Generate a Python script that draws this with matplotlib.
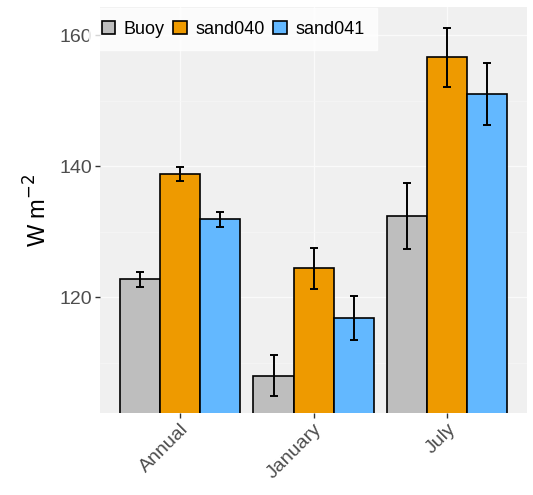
import numpy as np
import matplotlib.pyplot as plt

plt.rcParams['font.family'] = ['Liberation Sans', 'DejaVu Sans']

# 各时段的辐射通量均值与误差
periods = ['Annual', 'January', 'July']
sources = ['Buoy', 'sand040', 'sand041']
colors = ['#bebebe', '#ee9a00', '#63b8ff']

buoy = [122.7, 108.0, 132.4]
sand040 = [138.8, 124.4, 156.6]
sand041 = [131.9, 116.8, 151.0]
buoy_err = [1.1, 3.1, 5.0]
sand040_err = [1.1, 3.1, 4.5]
sand041_err = [1.15, 3.3, 4.7]

means = [buoy, sand040, sand041]
errs = [buoy_err, sand040_err, sand041_err]

fig = plt.figure(figsize=(5.33, 4.95), dpi=100)
ax = fig.add_axes([0.1876, 0.1657, 0.8014, 0.8203])
ax.set_facecolor('#f0f0f0')

x = np.arange(1, len(periods) + 1)
w = 0.3
for i, (m, e, c, s) in enumerate(zip(means, errs, colors, sources)):
    xs = x + (i - 1) * w
    ax.bar(xs, m, width=w, color=c, edgecolor='black', linewidth=1.2,
           label=s, zorder=2)
    ax.errorbar(xs, m, yerr=e, fmt='none', ecolor='black', elinewidth=1.4,
                capsize=2.8, capthick=1.4, zorder=3)

ax.set_xlim(0.4, 3.6)
ax.set_ylim(102.3, 164.3)
ax.set_yticks([120, 140, 160])
ax.set_yticks([110, 130, 150], minor=True)
ax.set_xticks(x)
ax.set_xticklabels(periods, rotation=45, ha='right', rotation_mode='anchor')

ax.grid(True, which='major', color='#fafafa', linewidth=1.0, zorder=0)
ax.grid(True, which='minor', axis='y', color='#f6f6f6', linewidth=0.5, zorder=0)
ax.set_axisbelow(True)
for sp in ax.spines.values():
    sp.set_visible(False)
ax.tick_params(axis='both', which='major', colors='#333333', labelcolor='#4d4d4d',
               labelsize=14, length=3.5, width=1, pad=2)
ax.tick_params(axis='y', which='minor', length=0)

ax.set_ylabel('W m$^{-2}$', fontsize=17, labelpad=6)

# 图例放在面板左上角，盖住部分刻度标签
leg = fig.legend(loc='upper left', bbox_to_anchor=(0.167, 0.984), ncol=3,
                 frameon=True, fontsize=13, handlelength=0.75, handleheight=0.75,
                 handletextpad=0.45, columnspacing=0.5, borderpad=0.7,
                 borderaxespad=0, fancybox=False)
leg.get_frame().set_facecolor('white')
leg.get_frame().set_edgecolor('white')
leg.set_zorder(10)

plt.savefig('out.png', dpi=100)
